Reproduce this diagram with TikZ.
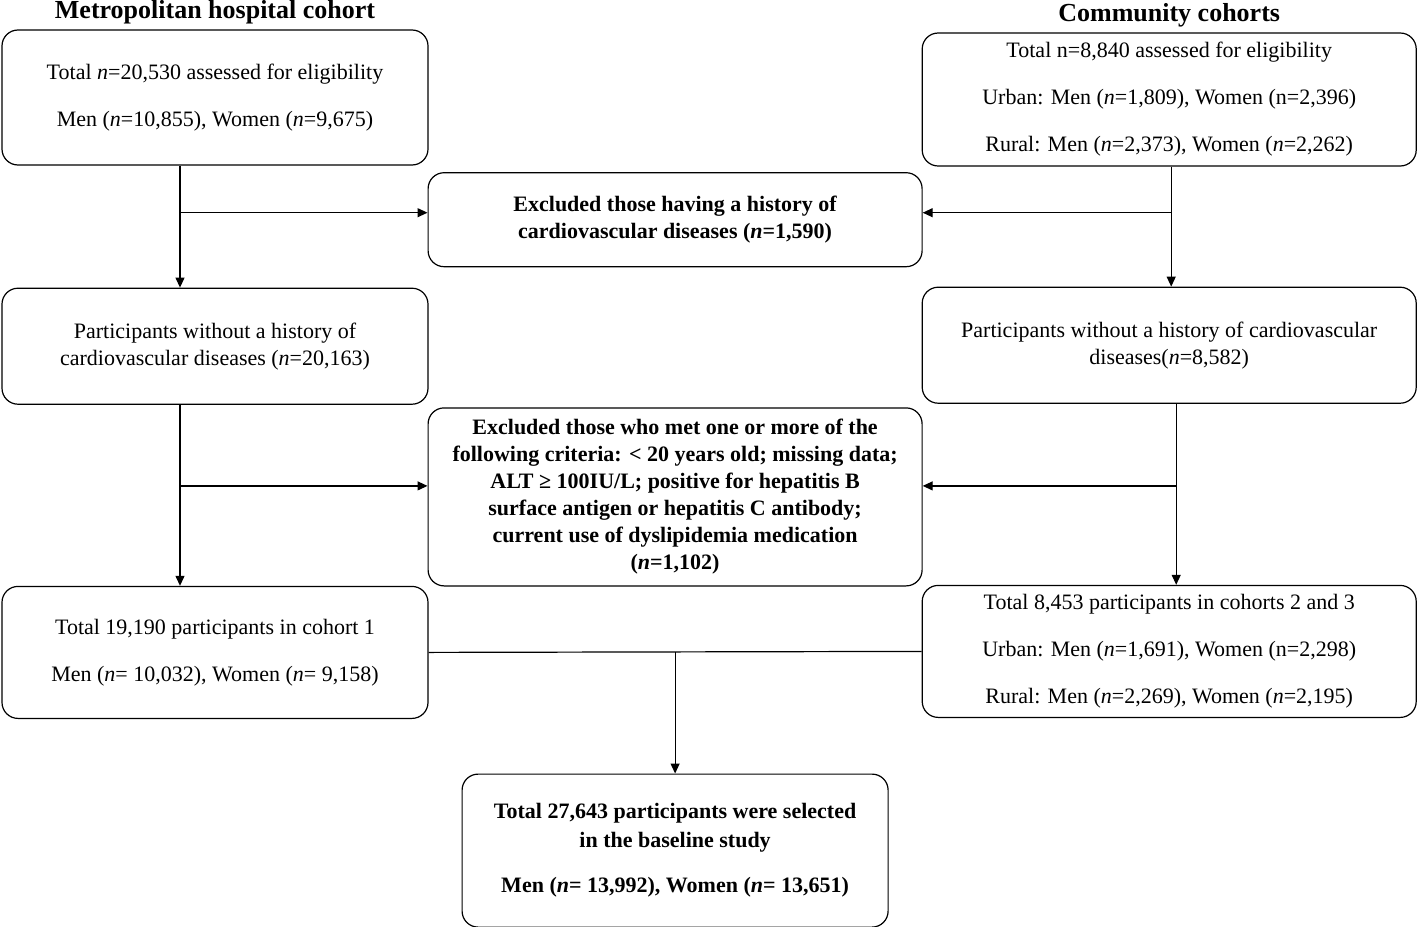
\documentclass[tikz,border=0pt]{standalone}
\usepackage{fontspec}
\setmainfont{Liberation Serif}
\usetikzlibrary{calc,positioning,arrows.meta}
\tikzstyle{block} = [rectangle, draw, rounded corners=8pt, align=center, minimum width=213pt, inner sep=2pt, line width=0.6pt, font=\fontsize{11}{13.5}\selectfont]
\tikzstyle{wide} = [block, minimum width=247pt]
\tikzstyle{excl} = [wide, font=\fontsize{11}{13.5}\selectfont\bfseries]
\tikzstyle{head} = [inner sep=0pt, font=\fontsize{13}{15}\selectfont\bfseries]
\tikzstyle{line} = [draw, line width=0.6pt]
\tikzstyle{arrow} = [line, -{Triangle[length=5pt,width=4.5pt]}]

\begin{document}
\begin{tikzpicture}[x=0.5pt, y=-0.5pt]
  \useasboundingbox (0,0) rectangle (1417,926);
  % left column
  \node[block, minimum height=67.5pt] (L1) at (215,97.5) {Total \textit{n}=20,530 assessed for eligibility\\[10pt] Men (\textit{n}=10,855), Women (\textit{n}=9,675)};
  \node[block, minimum height=58pt, below=61pt of L1] (L2) {Participants without a history of\\ cardiovascular diseases (\textit{n}=20,163)};
  \node[block, minimum height=66pt, below=90.5pt of L2] (L3) {Total 19,190 participants in cohort 1\\[10pt] Men (\textit{n}= 10,032), Women (\textit{n}= 9,158)};
  % right column
  \node[wide, minimum height=66.5pt, right=246.5pt of L1, yshift=-1pt] (R1) {Total n=8,840 assessed for eligibility\\[10pt] Urban: Men (\textit{n}=1,809), Women (n=2,396)\\[10pt] Rural: Men (\textit{n}=2,373), Women (\textit{n}=2,262)};
  \node[wide, minimum height=58pt, below=61pt of R1, yshift=1pt] (R2) {Participants without a history of cardiovascular\\ diseases(\textit{n}=8,582)};
  \node[wide, minimum height=66pt, below=90.5pt of R2] (R3) {Total 8,453 participants in cohorts 2 and 3\\[10pt] Urban: Men (\textit{n}=1,691), Women (n=2,298)\\[10pt] Rural: Men (\textit{n}=2,269), Women (\textit{n}=2,195)};
  % headings
  \node[head, above=2.5pt of L1] (HL) {Metropolitan hospital cohort};
  \node[head, above=2.5pt of R1] (HR) {Community cohorts};
  % exclusions and result
  \node[excl, minimum height=47pt, below=3pt of $(L1.south east)!.5!(R1.south west)$] (E1) {Excluded those having a history of\\ cardiovascular diseases (\textit{n}=1,590)};
  \node[excl, minimum height=89pt, below=1.5pt of $(L2.south east)!.5!(R2.south west)$] (E2) {Excluded those who met one or more of the\\ following criteria: < 20 years old; missing data;\\ ALT ≥ 100IU/L; positive for hepatitis B\\ surface antigen or hepatitis C antibody;\\ current use of dyslipidemia medication\\ (\textit{n}=1,102)};
  \node[block, minimum height=76.5pt, font=\fontsize{11}{14.5}\selectfont\bfseries, below=27.5pt of $(L3.south east)!.5!(R3.south west)$] (F) {Total 27,643 participants were selected\\ in the baseline study\\[8pt] Men (\textit{n}= 13,992), Women (\textit{n}= 13,651)};
  % connectors
  \coordinate (a) at ([xshift=-17.5pt]L1.south);
  \coordinate (b) at ([xshift=1pt]R1.south);
  \coordinate (c) at ([xshift=-17.5pt]L2.south);
  \coordinate (d) at ([xshift=3.5pt]R2.south);
  \coordinate (e1l) at ([yshift=3.5pt]E1.west);
  \coordinate (e1r) at ([yshift=3.5pt]E1.east);
  \coordinate (e2l) at ([yshift=5.5pt]E2.west);
  \coordinate (e2r) at ([yshift=5.5pt]E2.east);
  \draw[arrow] (a) -- (a |- L2.north);
  \draw[arrow] (a |- e1l) -- (e1l);
  \draw[arrow] (b) -- (b |- R2.north);
  \draw[arrow] (b |- e1r) -- (e1r);
  \draw[arrow] (c) -- (c |- L3.north);
  \draw[arrow] (c |- e2l) -- (e2l);
  \draw[arrow] (d) -- (d |- R3.north);
  \draw[arrow] (d |- e2r) -- (e2r);
  \draw[line] (L3.east) -- (R3.west);
  \draw[arrow] (F.north |- L3.east) -- (F.north);
\end{tikzpicture}
\end{document}
